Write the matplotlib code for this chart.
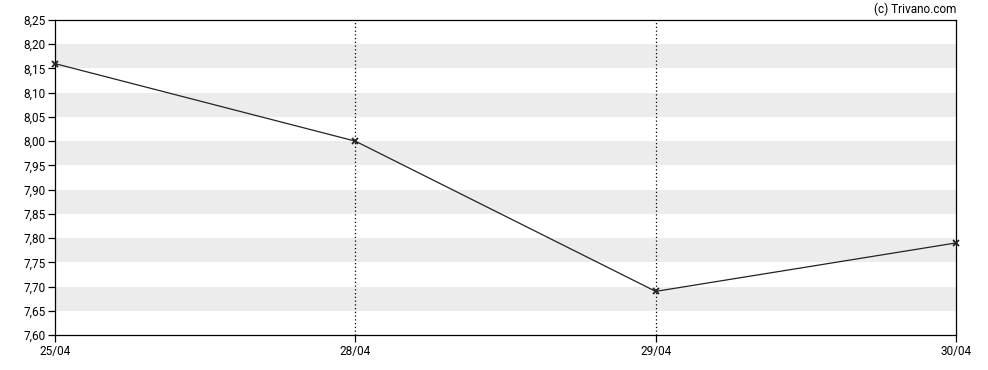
import matplotlib
matplotlib.use("Agg")
import matplotlib.pyplot as plt
import numpy as np

dates = ["25/04", "28/04", "29/04", "30/04"]
prices = [8.16, 8.00, 7.69, 7.79]
y_ticks = [7.60, 7.65, 7.70, 7.75, 7.80, 7.85, 7.90, 7.95, 8.00, 8.05, 8.10, 8.15, 8.20, 8.25]

plt.rcParams['font.family'] = ['Roboto', 'DejaVu Sans']

fig = plt.figure(figsize=(9.88, 3.7), dpi=100)
ax = fig.add_axes([55/988, 35/370, 901/988, 315/370])

x = np.arange(len(dates))

# alternating grey bands
for lo in np.arange(7.65, 8.25, 0.10):
    ax.axhspan(lo, lo + 0.05, color="#ececec", lw=0, zorder=0)

# dotted verticals on inner dates
for xi in x[1:-1]:
    ax.axvline(xi, color="black", lw=0.9, ls=(0, (1, 2)), zorder=1)

ax.plot(x, prices, color="#222222", lw=0.9, marker="x", ms=4, mew=1.3, zorder=3, clip_on=False)

ax.set_xlim(0, len(dates) - 1)
ax.set_ylim(7.60, 8.25)
ax.set_xticks(x)
ax.set_xticklabels(dates)
ax.set_yticks(y_ticks)
ax.set_yticklabels([f"{v:.2f}".replace(".", ",") for v in y_ticks])
ax.tick_params(labelsize=8.5, length=5, width=0.9, color="black", pad=2)
for s in ax.spines.values():
    s.set_linewidth(0.9)

fig.text(956/988, 1 - 9/370, "(c) Trivano.com", ha="right", va="center", fontsize=8.5)

fig.savefig("out.png", dpi=100)
